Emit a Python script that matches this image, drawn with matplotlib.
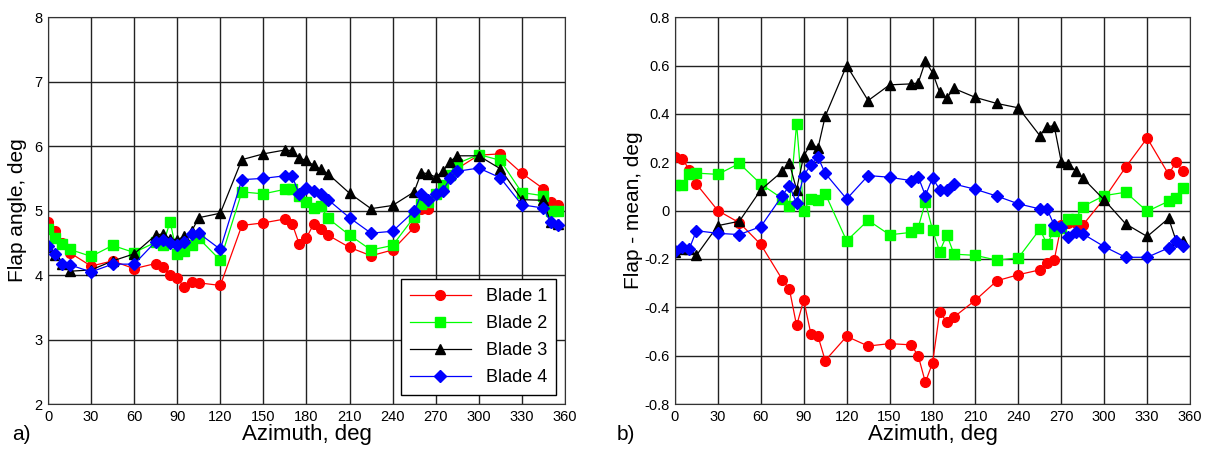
import matplotlib
matplotlib.use("Agg")
import matplotlib.pyplot as plt
from matplotlib.ticker import FuncFormatter

plt.rcParams['font.family'] = ['Liberation Sans', 'DejaVu Sans']

azimuth = [0, 5, 10, 15, 30, 45, 60, 75, 80, 85, 90, 95, 100, 105, 120, 135, 150,
           165, 170, 175, 180, 185, 190, 195, 210, 225, 240, 255, 260, 265, 270,
           275, 280, 285, 300, 315, 330, 345, 350, 355]

# flap angle, deg (panel a)
flap_b1 = [4.83, 4.69, 4.50, 4.35, 4.14, 4.22, 4.10, 4.18, 4.12, 4.00, 3.95, 3.81,
           3.90, 3.88, 3.84, 4.77, 4.81, 4.87, 4.80, 4.48, 4.58, 4.79, 4.71, 4.62,
           4.43, 4.30, 4.39, 4.74, 5.03, 5.02, 5.26, 5.37, 5.54, 5.65, 5.86, 5.88,
           5.58, 5.34, 5.14, 5.08]
flap_b2 = [4.71, 4.58, 4.48, 4.40, 4.29, 4.46, 4.35, 4.51, 4.46, 4.83, 4.32, 4.37,
           4.47, 4.57, 4.23, 5.29, 5.26, 5.33, 5.33, 5.23, 5.13, 5.04, 5.07, 4.88,
           4.62, 4.39, 4.46, 4.90, 5.10, 5.14, 5.25, 5.39, 5.56, 5.73, 5.87, 5.78,
           5.28, 5.23, 4.99, 5.00]
flap_b3 = [4.44, 4.31, 4.17, 4.06, 4.08, 4.22, 4.33, 4.62, 4.64, 4.56, 4.55, 4.60,
           4.68, 4.89, 4.96, 5.79, 5.88, 5.94, 5.93, 5.81, 5.78, 5.70, 5.64, 5.57,
           5.27, 5.03, 5.08, 5.29, 5.59, 5.57, 5.52, 5.61, 5.76, 5.85, 5.85, 5.65,
           5.17, 5.16, 4.82, 4.79]
flap_b4 = [4.45, 4.32, 4.17, 4.16, 4.05, 4.17, 4.17, 4.52, 4.54, 4.50, 4.47, 4.51,
           4.64, 4.65, 4.40, 5.48, 5.50, 5.54, 5.54, 5.25, 5.35, 5.30, 5.26, 5.17,
           4.89, 4.65, 4.68, 4.99, 5.25, 5.16, 5.25, 5.31, 5.50, 5.61, 5.66, 5.51,
           5.09, 5.04, 4.82, 4.77]

# flap minus mean, deg (panel b)
dev_b1 = [0.22, 0.215, 0.17, 0.11, 0.0, -0.05, -0.14, -0.285, -0.325, -0.475, -0.37,
          -0.51, -0.52, -0.62, -0.52, -0.56, -0.55, -0.555, -0.60, -0.71, -0.63, -0.42,
          -0.46, -0.44, -0.37, -0.29, -0.265, -0.245, -0.215, -0.205, -0.06, -0.05,
          -0.05, -0.06, 0.05, 0.18, 0.30, 0.15, 0.20, 0.165]
dev_b2 = [0.105, 0.105, 0.15, 0.155, 0.15, 0.195, 0.11, 0.05, 0.02, 0.36, 0.0, 0.05,
          0.045, 0.07, -0.125, -0.04, -0.10, -0.09, -0.07, 0.035, -0.08, -0.17, -0.10,
          -0.18, -0.185, -0.205, -0.195, -0.077, -0.138, -0.083, -0.07, -0.035, -0.035,
          0.017, 0.062, 0.076, -0.003, 0.039, 0.052, 0.092]
dev_b3 = [-0.17, -0.16, -0.16, -0.185, -0.062, -0.044, 0.086, 0.162, 0.195, 0.087,
          0.227, 0.275, 0.26, 0.39, 0.60, 0.455, 0.52, 0.524, 0.528, 0.617, 0.571, 0.489,
          0.466, 0.505, 0.468, 0.443, 0.425, 0.31, 0.347, 0.351, 0.20, 0.193, 0.165,
          0.135, 0.044, -0.055, -0.107, -0.032, -0.121, -0.124]
dev_b4 = [-0.165, -0.152, -0.158, -0.083, -0.094, -0.099, -0.066, 0.062, 0.103, 0.03,
          0.145, 0.19, 0.22, 0.154, 0.048, 0.145, 0.138, 0.124, 0.14, 0.062, 0.135,
          0.087, 0.087, 0.11, 0.088, 0.06, 0.028, 0.007, 0.007, -0.06, -0.066, -0.11,
          -0.09, -0.096, -0.149, -0.193, -0.193, -0.154, -0.124, -0.145]

labels = ['Blade 1', 'Blade 2', 'Blade 3', 'Blade 4']
colors = ['#ff0000', '#00ff00', '#000000', '#0000ff']
markers = ['o', 's', '^', 'D']
msizes = [7, 7, 7.5, 6]

fig = plt.figure(figsize=(12.07, 4.51), dpi=100)
ax1 = fig.add_axes([0.0398, 0.104, 0.4282, 0.858])
ax2 = fig.add_axes([0.5592, 0.104, 0.4268, 0.858])

for ax, series in [(ax1, [flap_b1, flap_b2, flap_b3, flap_b4]),
                   (ax2, [dev_b1, dev_b2, dev_b3, dev_b4])]:
    for y, lab, c, m, ms in zip(series, labels, colors, markers, msizes):
        ax.plot(azimuth, y, '-', color=c, marker=m, markersize=ms, linewidth=0.9,
                markeredgecolor=c, label=lab)
    ax.set_xlim(0, 360)
    ax.set_xticks(range(0, 361, 30))
    ax.grid(True, color='#222222', linewidth=1.0)
    ax.set_axisbelow(True)
    ax.tick_params(direction='in', labelsize=10.5, length=0, pad=4)
    ax.set_xlabel('Azimuth, deg', fontsize=16, labelpad=0)
    for s in ax.spines.values():
        s.set_color('#333333')

ax1.set_ylim(2, 8)
ax1.set_yticks(range(2, 9))
ax1.set_ylabel('Flap angle, deg', fontsize=15, labelpad=5)
ax1.legend(loc='lower right', fontsize=13, frameon=True, fancybox=False,
           edgecolor='black', framealpha=1, handlelength=3.4,
           borderaxespad=0.5, labelspacing=0.55, borderpad=0.5)

ax2.set_ylim(-0.8, 0.8)
ax2.set_yticks([-0.8, -0.6, -0.4, -0.2, 0, 0.2, 0.4, 0.6, 0.8])
ax2.yaxis.set_major_formatter(FuncFormatter(lambda v, p: '%g' % round(v, 2)))
ax2.set_ylabel('Flap - mean, deg', fontsize=15, labelpad=1)

fig.text(0.010, 0.025, 'a)', fontsize=15)
fig.text(0.511, 0.025, 'b)', fontsize=15)

fig.savefig('out.png', dpi=100)
